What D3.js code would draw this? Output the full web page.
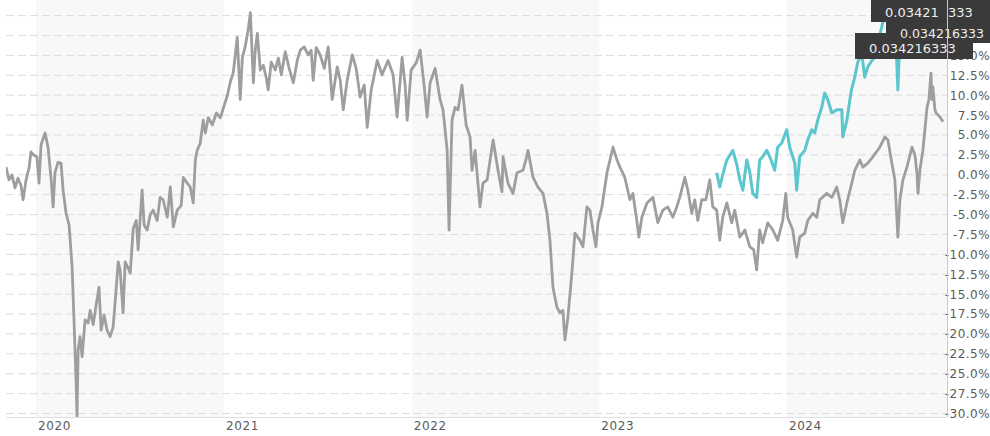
<!DOCTYPE html>
<html>
<head>
<meta charset="utf-8">
<script src="https://cdn.jsdelivr.net/npm/d3@7"></script>
<style>
  html, body { margin: 0; padding: 0; background: #fff; overflow: hidden; }
  svg { display: block; font-family: "DejaVu Sans", Verdana, sans-serif; }
</style>
</head>
<body>
<div class="container"></div>
<script>
// Dates are decimal years, values are % change
const greyDates = [
  2019.840, 2019.856, 2019.872, 2019.888, 2019.904, 2019.920, 2019.931, 2019.947, 2019.963, 2019.973,
  2019.989, 2020.005, 2020.016, 2020.027, 2020.048, 2020.064, 2020.080, 2020.091, 2020.101, 2020.117,
  2020.133, 2020.144, 2020.160, 2020.176, 2020.192, 2020.202, 2020.213, 2020.218, 2020.224, 2020.234,
  2020.245, 2020.261, 2020.277, 2020.288, 2020.304, 2020.320, 2020.335, 2020.346, 2020.362, 2020.378,
  2020.394, 2020.410, 2020.426, 2020.437, 2020.447, 2020.463, 2020.474, 2020.490, 2020.501, 2020.517,
  2020.533, 2020.543, 2020.564, 2020.575, 2020.591, 2020.607, 2020.623, 2020.644, 2020.660, 2020.676,
  2020.698, 2020.714, 2020.730, 2020.751, 2020.772, 2020.783, 2020.804, 2020.820, 2020.836, 2020.847,
  2020.857, 2020.873, 2020.889, 2020.900, 2020.916, 2020.937, 2020.959, 2020.980, 2021.001, 2021.017,
  2021.033, 2021.049, 2021.070, 2021.086, 2021.097, 2021.113, 2021.129, 2021.140, 2021.156, 2021.166,
  2021.177, 2021.193, 2021.209, 2021.225, 2021.235, 2021.251, 2021.273, 2021.289, 2021.305, 2021.326,
  2021.347, 2021.369, 2021.390, 2021.406, 2021.427, 2021.448, 2021.464, 2021.475, 2021.491, 2021.512,
  2021.534, 2021.555, 2021.576, 2021.603, 2021.619, 2021.635, 2021.656, 2021.683, 2021.704, 2021.725,
  2021.747, 2021.763, 2021.784, 2021.816, 2021.842, 2021.874, 2021.901, 2021.922, 2021.949, 2021.965,
  2021.976, 2021.997, 2022.024, 2022.045, 2022.066, 2022.082, 2022.098, 2022.125, 2022.151, 2022.167,
  2022.189, 2022.199, 2022.215, 2022.231, 2022.247, 2022.268, 2022.290, 2022.311, 2022.322, 2022.338,
  2022.364, 2022.380, 2022.402, 2022.434, 2022.460, 2022.481, 2022.487, 2022.513, 2022.540, 2022.561,
  2022.593, 2022.609, 2022.620, 2022.647, 2022.673, 2022.700, 2022.721, 2022.737, 2022.753, 2022.774,
  2022.790, 2022.806, 2022.817, 2022.833, 2022.854, 2022.870, 2022.897, 2022.913, 2022.934, 2022.950,
  2022.966, 2022.982, 2022.993, 2023.014, 2023.041, 2023.073, 2023.094, 2023.110, 2023.136, 2023.163,
  2023.179, 2023.200, 2023.211, 2023.227, 2023.254, 2023.286, 2023.312, 2023.339, 2023.365, 2023.392,
  2023.413, 2023.429, 2023.456, 2023.472, 2023.493, 2023.509, 2023.525, 2023.546, 2023.568, 2023.589,
  2023.605, 2023.626, 2023.642, 2023.658, 2023.680, 2023.706, 2023.722, 2023.749, 2023.776, 2023.802,
  2023.823, 2023.839, 2023.855, 2023.871, 2023.898, 2023.925, 2023.951, 2023.978, 2023.994, 2024.004,
  2024.031, 2024.052, 2024.068, 2024.095, 2024.111, 2024.138, 2024.159, 2024.175, 2024.212, 2024.239,
  2024.265, 2024.281, 2024.297, 2024.319, 2024.345, 2024.361, 2024.388, 2024.404, 2024.430, 2024.457,
  2024.494, 2024.521, 2024.537, 2024.558, 2024.574, 2024.590, 2024.601, 2024.617, 2024.638, 2024.665,
  2024.681, 2024.691, 2024.697, 2024.707, 2024.723, 2024.745, 2024.755, 2024.766, 2024.771, 2024.776,
  2024.787, 2024.793, 2024.814, 2024.830
];
const greyValues = [
  0.9, -0.7, -0.1, -1.7, -0.5, -1.4, -3.2, -0.7, 0.8, 2.8,
  2.4, 2.2, -1.1, 3.7, 5.2, 3.4, -0.5, -4.1, 0.2, 1.5,
  1.4, -2.0, -4.9, -6.4, -11.7, -18.3, -25.9, -30.4, -22.1, -20.4,
  -22.9, -18.3, -18.7, -17.1, -18.9, -16.4, -14.2, -19.6, -17.7, -19.6,
  -20.4, -19.2, -14.5, -11.0, -12.0, -17.4, -11.0, -11.8, -12.4, -6.8,
  -5.8, -9.5, -2.0, -6.4, -7.0, -5.1, -4.5, -5.8, -2.9, -3.2,
  -5.4, -1.6, -6.6, -4.5, -3.9, -0.4, -1.1, -1.6, -3.6, 1.8,
  3.0, 3.9, 6.8, 5.2, 7.1, 6.2, 7.7, 7.1, 8.7, 9.9,
  11.6, 12.8, 17.2, 9.4, 14.6, 16.1, 18.3, 20.3, 11.5, 15.6,
  17.7, 13.1, 13.7, 12.1, 10.6, 14.1, 13.1, 14.6, 12.5, 15.4,
  13.3, 11.5, 14.3, 15.6, 16.0, 15.0, 15.6, 11.8, 15.9, 15.0,
  13.3, 16.0, 9.4, 13.5, 11.8, 8.1, 11.8, 15.0, 13.3, 9.7,
  11.2, 5.9, 10.6, 14.3, 12.5, 14.3, 12.5, 7.2, 14.7, 11.2,
  6.8, 13.1, 14.0, 15.6, 11.2, 7.2, 11.5, 13.3, 9.4, 8.1,
  3.0, -7.0, 6.8, 8.4, 8.1, 11.2, 6.2, 4.7, 0.5, 3.0,
  -4.1, -1.1, -0.7, 4.3, 0.5, -2.2, 2.2, -1.1, -2.4, 0.2,
  0.5, 1.8, 3.0, -0.4, -1.6, -2.4, -4.9, -8.3, -14.2, -16.7,
  -17.4, -17.1, -20.8, -17.9, -12.4, -7.4, -8.3, -9.1, -4.1, -4.5,
  -7.0, -9.1, -6.1, -4.1, 0.2, 3.4, 1.8, 0.9, -0.4, -3.2,
  -2.4, -5.8, -7.9, -5.4, -3.6, -2.9, -6.1, -4.5, -4.1, -5.4,
  -4.1, -2.9, -0.4, -2.0, -4.9, -3.2, -5.8, -3.2, -3.2, -0.7,
  -4.1, -4.5, -8.3, -5.4, -3.6, -6.1, -4.5, -7.9, -7.0, -9.1,
  -9.5, -12.0, -7.0, -8.6, -6.1, -7.0, -8.3, -5.8, -2.4, -5.4,
  -7.0, -10.4, -7.9, -7.4, -5.8, -4.9, -5.4, -3.2, -2.4, -2.9,
  -1.6, -3.2, -6.1, -3.6, -1.1, 0.5, 1.8, 0.9, 1.4, 2.2,
  3.4, 4.7, 4.3, 1.4, -0.7, -7.9, -3.2, -0.7, 0.9, 3.4,
  2.4, 0.2, -2.4, 0.5, 3.0, 8.4, 9.4, 12.7, 9.4, 11.0,
  8.1, 7.7, 7.2, 6.6
];

const tealDates = [
  2023.626, 2023.642, 2023.664, 2023.680, 2023.696, 2023.712, 2023.733, 2023.749, 2023.765, 2023.786,
  2023.802, 2023.818, 2023.839, 2023.855, 2023.871, 2023.893, 2023.909, 2023.935, 2023.951, 2023.972,
  2023.999, 2024.015, 2024.042, 2024.052, 2024.068, 2024.095, 2024.111, 2024.132, 2024.148, 2024.164,
  2024.185, 2024.201, 2024.217, 2024.239, 2024.265, 2024.292, 2024.297, 2024.319, 2024.335, 2024.345,
  2024.361, 2024.377, 2024.398, 2024.414, 2024.430, 2024.452, 2024.468, 2024.484, 2024.505, 2024.521,
  2024.548, 2024.574, 2024.590, 2024.601, 2024.617
];
const tealValues = [
  0.2, -1.6, 0.5, 1.8, 2.4, 3.0, 1.2, -0.7, -2.0, 1.8,
  0.3, -2.4, -2.9, 1.8, 2.2, 3.0, 2.2, 0.5, 3.4, 3.9,
  5.6, 3.4, 1.4, -2.0, 2.2, 3.0, 4.3, 5.6, 5.2, 6.8,
  8.4, 10.2, 9.4, 7.7, 8.1, 8.1, 4.7, 6.8, 9.4, 10.8,
  12.2, 14.1, 15.2, 12.2, 13.5, 14.3, 14.7, 16.5, 18.6, 20.0,
  20.9, 20.4, 10.6, 17.7, 19.4
];

const yearTicks = [2020, 2021, 2022, 2023, 2024];
const shadedYears = [2020, 2022, 2024];
const yTickValues = [20, 17.5, 15, 12.5, 10, 7.5, 5, 2.5, 0, -2.5, -5, -7.5, -10,
  -12.5, -15, -17.5, -20, -22.5, -25, -27.5, -30];
const tagTexts = ["0.03421", "333", "0.034216333", "0.034216333"];

const width = 990, height = 436;
const plot = { left: 6, right: 947, top: 0, bottom: 417 };

// decimal year -> Date
const toDate = t => {
  const yr = Math.floor(t);
  const a = Date.UTC(yr, 0, 1), b = Date.UTC(yr + 1, 0, 1);
  return new Date(a + (t - yr) * (b - a));
};

const x = d3.scaleUtc().domain([toDate(2020), toDate(2025)]).range([36, 975]);
const y = d3.scaleLinear().domain([-30.5, 21.9]).range([plot.bottom, plot.top]);

const locale = d3.formatLocale({ decimal: ".", thousands: ",", grouping: [3], currency: ["$", ""], minus: "-" });
const pct = locale.format(".1f");

const svg = d3.select(".container")
  .append("svg")
  .attr("width", width)
  .attr("height", height);

svg.append("defs").append("clipPath").attr("id", "plot-clip")
  .append("rect")
  .attr("x", plot.left).attr("y", plot.top)
  .attr("width", plot.right - plot.left).attr("height", plot.bottom - plot.top);

// alternate year shading
svg.append("g")
  .selectAll("rect")
  .data(shadedYears)
  .enter()
  .append("rect")
  .attr("x", d => x(toDate(d)))
  .attr("y", plot.top)
  .attr("width", d => Math.min(x(toDate(d + 1)), plot.right) - x(toDate(d)))
  .attr("height", plot.bottom - plot.top)
  .attr("fill", "#f8f8f8");

// dashed grid
svg.append("g")
  .attr("transform", `translate(${plot.left},0)`)
  .call(d3.axisRight(y).tickValues(yTickValues).tickSize(plot.right - plot.left).tickFormat(""))
  .call(g => g.select(".domain").remove())
  .selectAll("line")
  .attr("stroke", "#dcdcdc")
  .attr("stroke-dasharray", "8,4");

// bottom border
svg.append("line")
  .attr("x1", plot.left).attr("x2", plot.right)
  .attr("y1", plot.bottom + 0.5).attr("y2", plot.bottom + 0.5)
  .attr("stroke", "#e0e0e0");

const line = d3.line()
  .x(d => x(d.date))
  .y(d => y(d.value));

const greyData = greyDates.map((t, i) => ({ date: toDate(t), value: greyValues[i] }));
const tealData = tealDates.map((t, i) => ({ date: toDate(t), value: tealValues[i] }));

const lines = svg.append("g").attr("clip-path", "url(#plot-clip)");

lines.append("path")
  .datum(greyData)
  .attr("d", line)
  .attr("fill", "none")
  .attr("stroke", "#9e9e9e")
  .attr("stroke-width", 2.8)
  .attr("stroke-linejoin", "round");

lines.append("path")
  .datum(tealData)
  .attr("d", line)
  .attr("fill", "none")
  .attr("stroke", "#5cc6ce")
  .attr("stroke-width", 3)
  .attr("stroke-linejoin", "round");

// right axis labels
svg.append("g")
  .attr("transform", "translate(990,0)")
  .call(d3.axisLeft(y).tickValues(yTickValues).tickSize(0).tickPadding(0).tickFormat(d => pct(d) + "%"))
  .call(g => g.select(".domain").remove())
  .selectAll("text")
  .attr("dy", "0.37em")
  .attr("fill", "#5a5a5a")
  .style("font-family", "'DejaVu Sans', Verdana, sans-serif")
  .style("font-size", "12px")
  .style("letter-spacing", "0.45px");

// year labels
svg.append("g")
  .attr("transform", `translate(0,${plot.bottom})`)
  .call(d3.axisBottom(x).tickValues(yearTicks.map(toDate)).tickSize(0).tickFormat(d3.utcFormat("%Y")))
  .call(g => g.select(".domain").remove())
  .selectAll("text")
  .attr("text-anchor", "start")
  .attr("x", 1.5)
  .attr("y", 13)
  .attr("dy", 0)
  .attr("fill", "#5a5a5a")
  .style("font-family", "'DejaVu Sans', Verdana, sans-serif")
  .style("font-size", "12px")
  .style("letter-spacing", "0.6px");

// price tags at the top right
const tags = svg.append("g")
  .style("font-family", "'DejaVu Sans', Verdana, sans-serif")
  .style("font-size", "13px")
  .attr("fill", "#eeeeee");

tags.append("rect").attr("x", 855).attr("y", 33).attr("width", 118).attr("height", 26).attr("fill", "#3a3a3a");
tags.append("text").attr("x", 869).attr("y", 52.5).text(tagTexts[3]);

tags.append("rect").attr("x", 871).attr("y", 0).attr("width", 119).attr("height", 22).attr("fill", "#3a3a3a");
tags.append("text").attr("x", 885).attr("y", 16.5).text(tagTexts[0]);
tags.append("text").attr("x", 948).attr("y", 16.5).text(tagTexts[1]);

tags.append("rect").attr("x", 886).attr("y", 22).attr("width", 104).attr("height", 21).attr("fill", "#3a3a3a");
tags.append("text").attr("x", 900).attr("y", 38).style("font-size", "12.6px").text(tagTexts[2]);

// right axis line
svg.append("line")
  .attr("x1", plot.right + 0.5).attr("x2", plot.right + 0.5)
  .attr("y1", plot.top).attr("y2", plot.bottom)
  .attr("stroke", "#c8c8c8");
</script>
</body>
</html>
